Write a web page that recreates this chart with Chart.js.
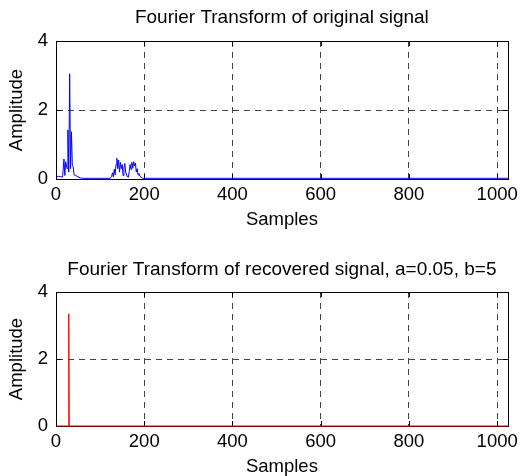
<!DOCTYPE html>
<html>
<head>
<meta charset="utf-8">
<script src="https://cdn.jsdelivr.net/npm/chart.js@4"></script>
<style>
body{margin:0;background:#fff;}
#wrap{position:relative;width:523px;height:476px;}
canvas{position:absolute;left:0;}
#graficoOriginal{top:0;}
#graficoRecuperado{top:240px;}
</style>
</head>
<body>
<div id="wrap">
  <canvas id="graficoOriginal" width="523" height="240"></canvas>
  <canvas id="graficoRecuperado" width="523" height="236"></canvas>
</div>
<script>
// ===============================
// DADOS
// ===============================

const amostrasOriginal = [
  1, 5, 10, 15, 18, 20, 22, 25, 27, 29, 31, 33, 35, 37, 39, 41, 45, 50, 55, 60,
  123, 126, 128, 130, 132, 134, 136, 138, 140, 142, 144, 146, 148, 150, 152, 154,
  156, 158, 161, 164, 166, 168, 170, 172, 174, 176, 178, 180, 182, 184, 186, 188,
  190, 193, 197, 1024
];
const amplitudeOriginal = [
  0.05, 0.08, 0.07, 0.06, 0.58, 0.1, 0.5, 0.3, 1.42, 0.2, 3.05, 0.3, 1.37, 0.4, 0.35, 0.12, 0.1, 0.06, 0.03, 0.02,
  0.02, 0.08, 0.18, 0.06, 0.28, 0.12, 0.42, 0.6, 0.3, 0.55, 0.2, 0.48, 0.3, 0.42, 0.1, 0.32,
  0.45, 0.2, 0.08, 0.05, 0.22, 0.42, 0.28, 0.48, 0.32, 0.5, 0.38, 0.46, 0.2, 0.3, 0.12, 0.16,
  0.08, 0.05, 0.02, 0.02
];

const amostrasRecuperado = [1, 28, 29, 30, 1024];
const amplitudeRecuperado = [0, 0, 3.35, 0, 0];

const ticksX = [0, 200, 400, 600, 800, 1000];
const ticksY = [0, 2, 4];

const tituloOriginal = "Fourier Transform of original signal";
const tituloRecuperado = "Fourier Transform of recovered signal, a=0.05, b=5";
const rotuloX = "Samples";
const rotuloY = "Amplitude";

const fonte = "'Liberation Sans', Arial, Helvetica, sans-serif";

// ===============================
// PLUGINS
// ===============================

// caixa do eixo + marcas internas (estilo matlab)
const caixaPlugin = {
  id: "caixa",
  beforeDatasetsDraw(chart){
    const {ctx, chartArea: a, scales} = chart;
    ctx.save();
    ctx.strokeStyle = "#000";
    ctx.lineWidth = 1;
    ctx.setLineDash([]);
    ctx.strokeRect(Math.round(a.left) + 0.5, Math.round(a.top) + 0.5,
      Math.round(a.right - a.left), Math.round(a.bottom - a.top));
    ctx.beginPath();
    ticksX.forEach(v => {
      const x = Math.round(scales.x.getPixelForValue(v)) + 0.5;
      ctx.moveTo(x, a.bottom); ctx.lineTo(x, a.bottom - 5);
      ctx.moveTo(x, a.top); ctx.lineTo(x, a.top + 5);
    });
    ticksY.forEach(v => {
      const y = Math.round(scales.y.getPixelForValue(v)) + 0.5;
      ctx.moveTo(a.left, y); ctx.lineTo(a.left + 5, y);
      ctx.moveTo(a.right, y); ctx.lineTo(a.right - 5, y);
    });
    ctx.stroke();
    ctx.restore();
  }
};

// titulo centrado sobre a area do grafico
const tituloPlugin = {
  id: "tituloCentro",
  afterDraw(chart, args, opts){
    const {ctx, chartArea: a} = chart;
    ctx.save();
    ctx.fillStyle = "#000";
    ctx.font = "19px " + fonte;
    ctx.textAlign = "center";
    ctx.textBaseline = "middle";
    ctx.fillText(opts.texto, (a.left + a.right) / 2, opts.y);
    ctx.restore();
  }
};

// ===============================
// GRAFICOS
// ===============================

function montarPontos(xs, ys){
  return xs.map((x, i) => ({ x: x, y: ys[i] }));
}

function corGrade(ctx){
  const v = ctx.tick ? ctx.tick.value : null;
  if(v === 0 || v === 4) return "rgba(0,0,0,0)";
  return "#444";
}

function criarGrafico(id, titulo, tituloY, xs, ys, cor, padTopo, padBaixo){

  const canvas = document.getElementById(id);

  return new Chart(canvas, {
    type: "line",
    data: {
      datasets: [{
        data: montarPontos(xs, ys),
        borderColor: cor,
        borderWidth: 1,
        pointRadius: 0,
        tension: 0,
        clip: 4
      }]
    },
    options: {
      responsive: false,
      animation: false,
      devicePixelRatio: 1,
      layout: { padding: { top: padTopo, right: 10, left: 0, bottom: padBaixo } },
      plugins: {
        legend: { display: false },
        tooltip: { enabled: false },
        tituloCentro: { texto: titulo, y: tituloY }
      },
      scales: {
        x: {
          type: "linear",
          min: 0,
          max: 1024,
          afterBuildTicks: s => { s.ticks = ticksX.map(v => ({ value: v })); },
          afterFit: s => { s.height = 50; },
          ticks: { color: "#000", font: { family: fonte, size: 18.5 }, padding: 5, maxRotation: 0,
            callback: v => String(v) },
          grid: { color: corGrade, drawTicks: false, lineWidth: 1 },
          border: { display: true, color: "#000", dash: [6, 5] },
          title: { display: true, text: rotuloX, color: "#000", font: { family: fonte, size: 18.5, lineHeight: 1 }, padding: 0 }
        },
        y: {
          min: 0,
          max: 4,
          afterBuildTicks: s => { s.ticks = ticksY.map(v => ({ value: v })); },
          afterFit: s => { s.width = 56; },
          ticks: { color: "#000", font: { family: fonte, size: 18.5 }, padding: 8 },
          grid: { color: corGrade, drawTicks: false, lineWidth: 1 },
          border: { display: true, color: "#000", dash: [6, 5] },
          title: { display: true, text: rotuloY, color: "#000", font: { family: fonte, size: 18.5, lineHeight: 1 }, padding: 8 }
        }
      }
    },
    plugins: [caixaPlugin, tituloPlugin]
  });
}

// ===============================
// INICIALIZACAO
// ===============================

criarGrafico("graficoOriginal", tituloOriginal, 18,
  amostrasOriginal, amplitudeOriginal, "#0000ff", 41, 11);

criarGrafico("graficoRecuperado", tituloRecuperado, 30,
  amostrasRecuperado, amplitudeRecuperado, "#ff0000", 52, 0);
</script>
</body>
</html>
